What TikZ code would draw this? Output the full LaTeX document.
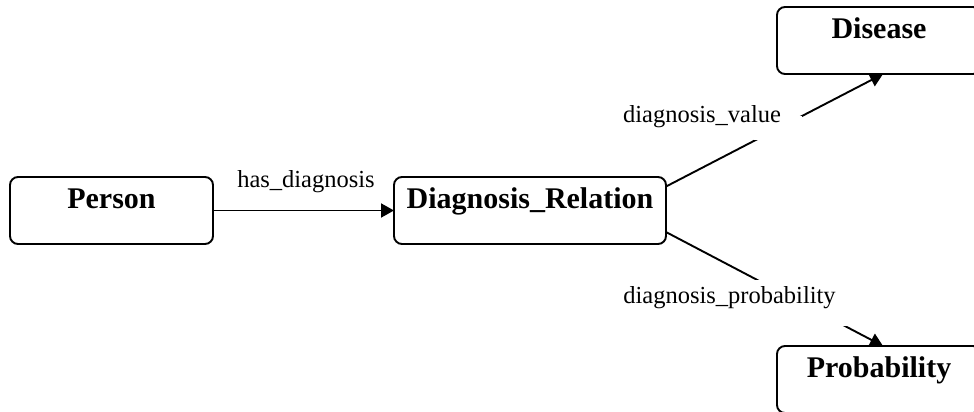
\documentclass[tikz,border=0pt]{standalone}
\usepackage{fontspec}
\setmainfont{Liberation Serif}
\usetikzlibrary{arrows.meta}
\begin{document}
\begin{tikzpicture}[x=1pt,y=-1pt,
  entity/.style={draw, line width=1.9pt, rounded corners=8pt, outer sep=0pt,
    minimum height=67pt, inner xsep=0pt, inner ysep=10pt,
    text height=21pt, text depth=26pt,
    font=\fontsize{30}{36}\selectfont\bfseries},
  rel/.style={line width=1.9pt, -{Triangle[length=13pt,width=14pt]}},
  gapmask/.style={fill=white, inner sep=0pt, outer sep=0pt},
  rellabel/.style={font=\fontsize{24.5}{29}\selectfont, inner sep=0pt, anchor=base}]
\useasboundingbox (0,0) rectangle (974,412);
\clip (0,0) rectangle (974,412);

% classes
\node[entity, minimum width=203pt] (person) at (111.5,210.5) {Person};
\node[entity, minimum width=272pt] (dr) at (530,210.5) {Diagnosis\_Relation};
\node[entity, minimum width=204pt] (dis) at (879,40.5) {Disease};
\node[entity, minimum width=204pt] (prob) at (879,379.5) {Probability};

% relations
\draw[rel] (person.east) -- (dr.west);
\draw[rel] (dr.10.6) -- node[gapmask, pos=0.516, minimum width=48pt, minimum height=24pt] (gv) {} ([xshift=4pt]dis.south);
\draw[rel] (dr.-9.8) -- node[gapmask, pos=0.62, minimum width=93pt, minimum height=46pt] (gp) {} ([xshift=4pt]prob.north);

% relation names
\node[rellabel] (lhas) at (306,187) {has\_diagnosis};
\node[rellabel] (lval) at (702,122) {diagnosis\_value};
\node[rellabel] (lprob) at (729.5,303) {diagnosis\_probability};
\end{tikzpicture}
\end{document}
